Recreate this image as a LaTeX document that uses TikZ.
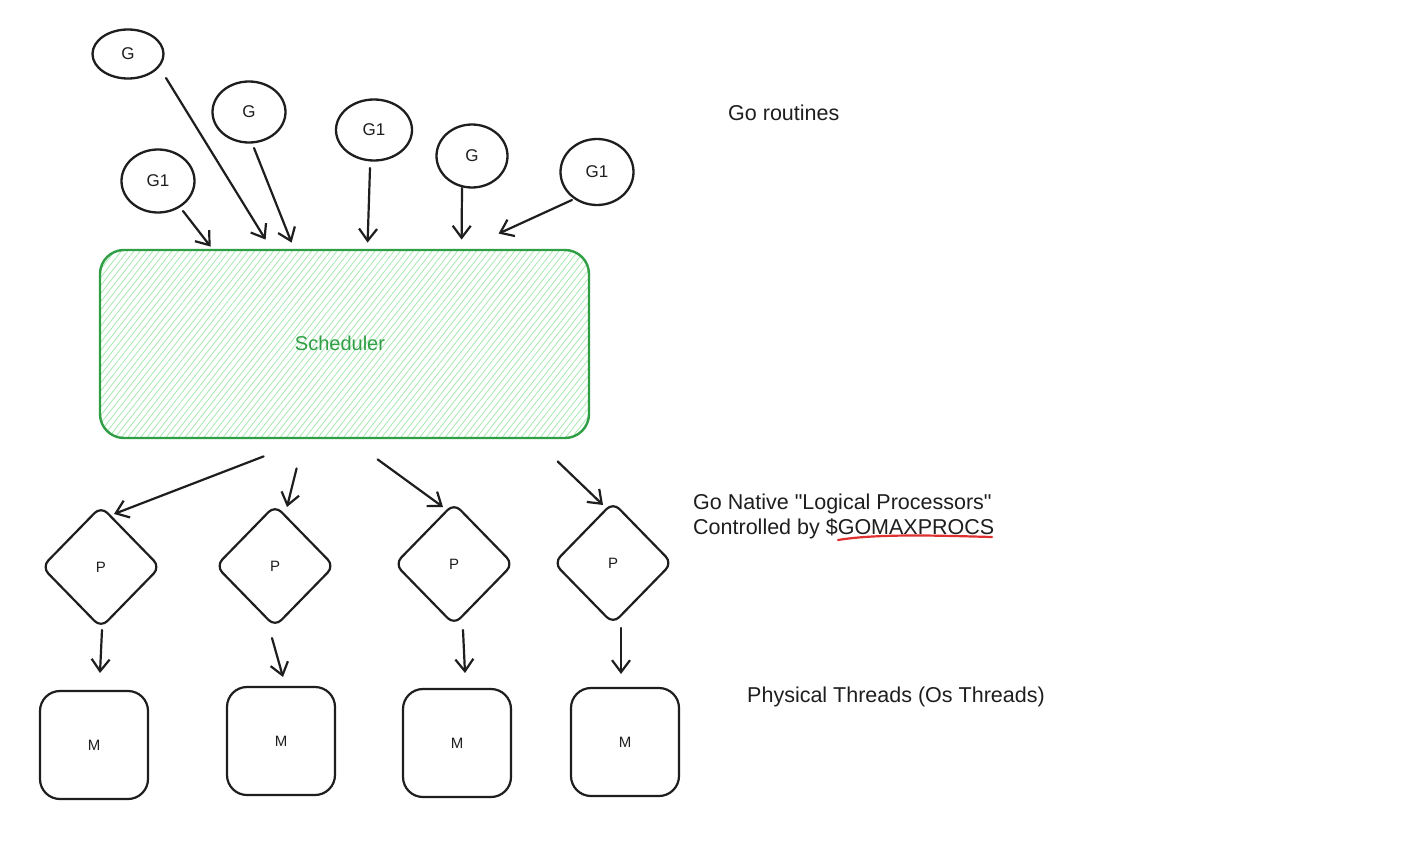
\documentclass[tikz,border=0pt]{standalone}
\usepackage{fontspec}
\setmainfont{Liberation Sans}
\usetikzlibrary{shapes.geometric,arrows.meta,patterns.meta,calc}
\definecolor{ink}{HTML}{1E1E1E}
\definecolor{sgreen}{HTML}{2F9E44}
\definecolor{lgreen}{HTML}{A5E8B0}
\definecolor{sred}{HTML}{E03131}
\tikzset{
  gnode/.style={ellipse,draw=ink,line width=2.3pt,inner sep=0pt,font=\fontsize{17}{20}\selectfont,text=ink},
  pnode/.style={diamond,draw=ink,line width=2.2pt,inner sep=0pt,minimum width=119pt,minimum height=122pt,rounded corners=9pt,font=\fontsize{15}{18}\selectfont,text=ink},
  mnode/.style={rectangle,draw=ink,line width=2.2pt,minimum width=108pt,minimum height=108pt,rounded corners=20pt,font=\fontsize{15}{18}\selectfont,text=ink},
  arr/.style={draw=ink,line width=2.2pt,line cap=round,-{Straight Barb[length=12pt,width=18pt,line width=2.2pt]}},
  label/.style={anchor=west,inner sep=0pt,font=\fontsize{21.5}{25}\selectfont,text=ink}
}
\begin{document}
\begin{tikzpicture}[x=1pt,y=-1pt]
\useasboundingbox (0,0) rectangle (1418,861);
\fill[white] (0,0) rectangle (1418,861);

% Go routines
\node[gnode,minimum width=71pt,minimum height=49pt] (gA) at (128,54) {G};
\node[gnode,minimum width=73pt,minimum height=61pt] (gB) at (249,112) {G};
\node[gnode,minimum width=73pt,minimum height=63pt] (gC) at (158,181) {G1};
\node[gnode,minimum width=76pt,minimum height=61pt] (gD) at (374,130) {G1};
\node[gnode,minimum width=71pt,minimum height=63pt] (gE) at (472,156) {G};
\node[gnode,minimum width=73pt,minimum height=66pt] (gF) at (597,172) {G1};

% Scheduler
\node[rectangle,draw=sgreen,line width=2.4pt,rounded corners=24pt,
      pattern={Lines[angle=52,distance=5pt,line width=0.8pt]},pattern color=lgreen,
      minimum width=489pt,minimum height=188pt] (sched) at (344.5,344) {};
\node[font=\fontsize{20}{24}\selectfont,text=sgreen] (schedlabel) at (340,343) {Scheduler};

% Processors
\node[pnode] (p1) at (101,567) {P};
\node[pnode] (p2) at (275,566) {P};
\node[pnode] (p3) at (454,564) {P};
\node[pnode] (p4) at (613,563) {P};

% Threads
\node[mnode] (m1) at (94,745) {M};
\node[mnode] (m2) at (281,741) {M};
\node[mnode] (m3) at (457,743) {M};
\node[mnode] (m4) at (625,742) {M};

% G -> Scheduler
\draw[arr] ([xshift=38pt,yshift=-24pt]gA.center) -- ([xshift=166pt,yshift=10pt]sched.north west);
\draw[arr] ([xshift=5pt,yshift=-36pt]gB.center) -- ([xshift=192pt,yshift=7pt]sched.north west);
\draw[arr] ([xshift=25pt,yshift=-30pt]gC.center) -- ([xshift=111pt,yshift=3pt]sched.north west);
\draw[arr] ([xshift=-4pt,yshift=-38pt]gD.center) -- ([xshift=268pt,yshift=7pt]sched.north west);
\draw[arr] ([xshift=-10pt,yshift=-32pt]gE.center) -- ([xshift=362pt,yshift=10pt]sched.north west);
\draw[arr] ([xshift=-25pt,yshift=-28pt]gF.center) -- ([xshift=399pt,yshift=16pt]sched.north west);

% Scheduler -> P
\draw[arr] ([xshift=164pt,yshift=-18pt]sched.south west) -- ([xshift=13pt,yshift=53pt]p1.center);
\draw[arr] ([xshift=197pt,yshift=-30pt]sched.south west) -- ([xshift=12pt,yshift=59pt]p2.center);
\draw[arr] ([xshift=278pt,yshift=-21pt]sched.south west) -- ([xshift=-11pt,yshift=57pt]p3.center);
\draw[arr] ([xshift=458pt,yshift=-23pt]sched.south west) -- ([xshift=-10pt,yshift=58pt]p4.center);

% P -> M
\draw[arr] ([xshift=1pt,yshift=-63pt]p1.center) -- ([xshift=6pt,yshift=72pt]m1.center);
\draw[arr] ([xshift=-3pt,yshift=-72pt]p2.center) -- ([xshift=2pt,yshift=64pt]m2.center);
\draw[arr] ([xshift=9pt,yshift=-66pt]p3.center) -- ([xshift=8pt,yshift=70pt]m3.center);
\draw[arr] ([xshift=8pt,yshift=-65pt]p4.center) -- ([xshift=-4pt,yshift=68pt]m4.center);

% Labels
\node[label] (lgo) at (728,113) {Go routines};
\node[label] (lnat) at (693,504) {Go Native \textquotedbl Logical Processors\textquotedbl};
\node[label] (lctl) at (693,529) {Controlled by \$GOMAXPROCS};
\node[label] (lphy) at (747,697) {Physical Threads (Os Threads)};

% red underline
\draw[sred,line width=2.2pt,line cap=round] (838,540) .. controls (880,533) and (950,536) .. (992,537);
\end{tikzpicture}
\end{document}
